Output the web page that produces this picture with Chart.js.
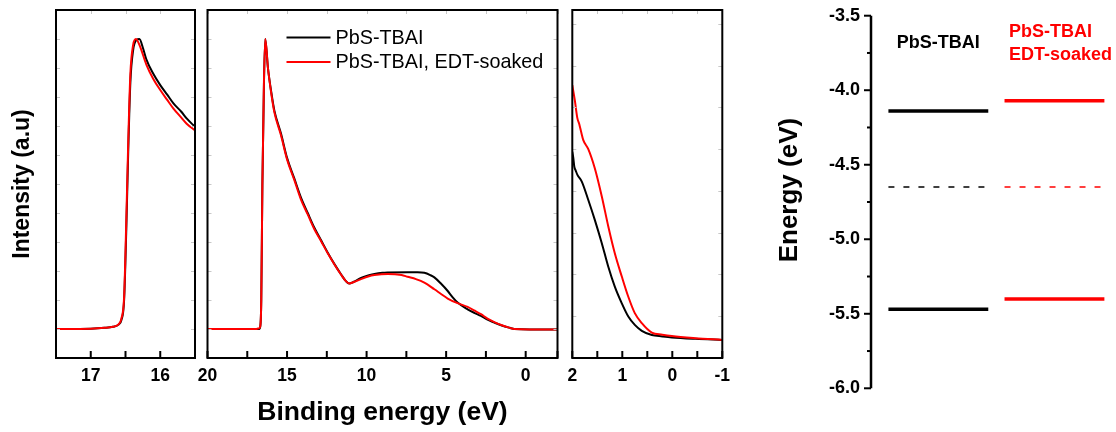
<!DOCTYPE html>
<html>
<head>
<meta charset="utf-8">
<script src="https://cdn.jsdelivr.net/npm/chart.js@4.4.0/dist/chart.umd.min.js"></script>
<style>
  html, body { margin: 0; padding: 0; background: #fff; }
  #wrap { position: relative; width: 1116px; height: 432px; }
  #wrap canvas { position: absolute; left: 0; top: 0; }
</style>
</head>
<body>
<div id="wrap">
  <canvas id="cutoffChart" width="1116" height="432"></canvas>
  <canvas id="fullChart" width="1116" height="432"></canvas>
  <canvas id="edgeChart" width="1116" height="432"></canvas>
  <canvas id="levelChart" width="1116" height="432"></canvas>
</div>
<script>
// series names
const seriesNames = ['PbS-TBAI', 'PbS-TBAI, EDT-soaked'];

// panel 1: secondary electron cutoff (binding energy, normalised intensity)
const cutoffX_tbai = [17.5, 17.0, 16.8, 16.68, 16.6, 16.56, 16.52, 16.49, 16.46, 16.43, 16.39, 16.34, 16.30, 16.25, 16.2, 16.1, 16.0, 15.9, 15.81, 15.7, 15.62, 15.5];
const cutoffY_tbai = [0, 0.001, 0.004, 0.008, 0.015, 0.03, 0.1, 0.33, 0.62, 0.85, 0.962, 0.997, 1.0, 0.97, 0.93, 0.88, 0.841, 0.808, 0.778, 0.75, 0.726, 0.697];
const cutoffX_edt = [17.5, 17.0, 16.8, 16.68, 16.6, 16.56, 16.52, 16.49, 16.46, 16.43, 16.39, 16.35, 16.3, 16.2, 16.1, 16.0, 15.9, 15.81, 15.7, 15.62, 15.5];
const cutoffY_edt = [0, 0.001, 0.004, 0.008, 0.016, 0.035, 0.11, 0.36, 0.65, 0.88, 0.98, 1.0, 0.98, 0.912, 0.862, 0.824, 0.79, 0.76, 0.73, 0.708, 0.685];

// panel 2: full UPS spectrum
const fullX_tbai = [20, 17, 16.75, 16.68, 16.62, 16.55, 16.45, 16.37, 16.2, 16.0, 15.8, 15.38, 15.0, 14.55, 14.13, 13.7, 13.29, 12.85, 12.45, 12.0, 11.61, 11.3, 11.1, 10.8, 10.35, 9.9, 9.51, 9.0, 8.67, 7.42, 6.8, 6.37, 6.0, 5.74, 5.3, 4.9, 4.6, 4.28, 3.65, 3.2, 2.81, 2.4, 1.97, 1.5, 1.0, 0.71, -2];
const fullY_tbai = [0, 0, 0, 0.01, 0.1, 0.5, 0.85, 1.0, 0.9, 0.82, 0.754, 0.674, 0.59, 0.52, 0.454, 0.40, 0.35, 0.305, 0.264, 0.222, 0.189, 0.165, 0.157, 0.163, 0.176, 0.185, 0.19, 0.194, 0.195, 0.196, 0.196, 0.194, 0.186, 0.178, 0.155, 0.131, 0.11, 0.091, 0.068, 0.055, 0.045, 0.032, 0.022, 0.012, 0.004, 0, -0.002];
const fullX_edt = [20, 17, 16.75, 16.68, 16.62, 16.55, 16.45, 16.37, 16.2, 16.0, 15.8, 15.38, 15.0, 14.55, 14.13, 13.7, 13.29, 12.85, 12.45, 12.0, 11.61, 11.3, 11.1, 10.8, 10.35, 9.9, 9.51, 8.67, 7.8, 7.42, 6.9, 6.37, 5.74, 5.3, 4.9, 4.28, 3.65, 3.2, 2.81, 2.4, 1.97, 1.5, 1.0, 0.71, -2];
const fullY_edt = [0, 0, 0.003, 0.01, 0.1, 0.5, 0.86, 1.0, 0.9, 0.815, 0.748, 0.668, 0.585, 0.515, 0.447, 0.395, 0.345, 0.302, 0.262, 0.221, 0.188, 0.165, 0.157, 0.162, 0.172, 0.181, 0.186, 0.19, 0.186, 0.18, 0.172, 0.16, 0.137, 0.12, 0.105, 0.089, 0.076, 0.063, 0.051, 0.036, 0.024, 0.013, 0.004, 0, -0.002];

// panel 3: valence band edge
const edgeX_tbai = [2.0, 1.98, 1.96, 1.93, 1.9, 1.81, 1.68, 1.55, 1.41, 1.28, 1.15, 1.01, 0.88, 0.75, 0.61, 0.41, 0.2, 0.01, -0.46, -1.0];
const edgeY_tbai = [0.593, 0.575, 0.55, 0.538, 0.527, 0.507, 0.454, 0.397, 0.33, 0.262, 0.205, 0.157, 0.119, 0.095, 0.078, 0.066, 0.062, 0.059, 0.055, 0.052];
const edgeX_edt = [2.0, 1.95, 1.9, 1.86, 1.82, 1.78, 1.68, 1.55, 1.41, 1.28, 1.15, 1.01, 0.88, 0.75, 0.61, 0.41, 0.2, 0.01, -0.46, -1.0];
const edgeY_edt = [0.784, 0.741, 0.69, 0.672, 0.648, 0.626, 0.6, 0.545, 0.464, 0.378, 0.301, 0.234, 0.176, 0.129, 0.1, 0.073, 0.067, 0.063, 0.057, 0.052];

// x ticks and labels for the three spectra panels
const cutoffTicks = [17.5, 17, 16.5, 16, 15.5];
const cutoffLabels = [17, 16];
const fullTicks = [20, 17.5, 15, 12.5, 10, 7.5, 5, 2.5, 0, -2];
const fullLabels = [20, 15, 10, 5, 0];
const edgeTicks = [2, 1.5, 1, 0.5, 0, -0.5, -1];
const edgeLabels = [2, 1, 0, -1];

// panel 4: energy levels (eV)
const levelNames = [['PbS-TBAI'], ['PbS-TBAI', 'EDT-soaked']];
const levelCB = [-4.14, -4.07];
const levelEF = [-4.65, -4.65];
const levelVB = [-5.47, -5.40];
const energyTicks = [-6.0, -5.5, -5.0, -4.5, -4.0, -3.5];

const colors = ['#000000', '#ff0000'];
const fontFam = '"Liberation Sans", Arial, sans-serif';
Chart.defaults.font.family = fontFam;
Chart.defaults.color = '#000';

function pairs(xs, ys) {
  return xs.map((x, i) => ({x: x, y: ys[i]}));
}

// frame round the plot area, inward ticks
const framePlugin = {
  id: 'frame',
  afterDatasetsDraw(chart) {
    const {ctx, chartArea: a, scales} = chart;
    ctx.save();
    ctx.strokeStyle = '#c8c8c8';
    ctx.lineWidth = 1;
    scales.x.ticks.forEach(t => {
      const px = Math.round(scales.x.getPixelForValue(t.value)) + 0.5;
      ctx.beginPath(); ctx.moveTo(px, a.top); ctx.lineTo(px, a.top + 4); ctx.stroke();
    });
    scales.y.ticks.forEach(t => {
      const py = Math.round(scales.y.getPixelForValue(t.value)) + 0.5;
      ctx.beginPath(); ctx.moveTo(a.left, py); ctx.lineTo(a.left + 4, py); ctx.stroke();
      ctx.beginPath(); ctx.moveTo(a.right, py); ctx.lineTo(a.right - 4, py); ctx.stroke();
    });
    ctx.strokeStyle = '#000';
    ctx.lineWidth = 2;
    scales.x.ticks.forEach(t => {
      const px = scales.x.getPixelForValue(t.value);
      ctx.beginPath(); ctx.moveTo(px, a.bottom); ctx.lineTo(px, a.bottom - 7); ctx.stroke();
    });
    ctx.strokeRect(a.left, a.top, a.right - a.left, a.bottom - a.top);
    ctx.restore();
  }
};

// legend drawn inside the middle panel
const innerLegend = {
  id: 'innerLegend',
  afterDraw(chart) {
    const {ctx, chartArea: a} = chart;
    ctx.save();
    ctx.font = '19.8px ' + fontFam;
    ctx.textBaseline = 'middle';
    seriesNames.forEach((name, i) => {
      const y = a.top + 27.5 + i * 24.4;
      ctx.strokeStyle = colors[i];
      ctx.lineWidth = 2;
      ctx.beginPath(); ctx.moveTo(a.left + 79, y); ctx.lineTo(a.left + 123, y); ctx.stroke();
      ctx.fillStyle = '#000';
      ctx.fillText(name, a.left + 128, y + 1);
    });
    ctx.restore();
  }
};

function spectrumChart(id, datasets, xMin, xMax, ticks, labels, yMin, yMax, yStep, pad, yOpts, xTitle, extra) {
  return new Chart(document.getElementById(id), {
    type: 'line',
    data: {
      // red drawn on top of black
      datasets: datasets.map((d, i) => ({
        label: seriesNames[i],
        data: d,
        borderColor: colors[i],
        borderWidth: 2,
        pointRadius: 0,
        fill: false,
        cubicInterpolationMode: 'monotone'
      })).reverse()
    },
    options: {
      responsive: false,
      animation: false,
      events: [],
      layout: {padding: pad},
      plugins: {legend: {display: false}, tooltip: {enabled: false}},
      scales: {
        x: {
          type: 'linear',
          reverse: true,
          min: xMin,
          max: xMax,
          grid: {display: false, drawTicks: false},
          border: {display: false},
          afterBuildTicks: s => { s.ticks = ticks.map(v => ({value: v})); },
          afterFit: s => { s.height = 74; s.paddingLeft = 0; s.paddingRight = 0; },
          ticks: {
            autoSkip: false,
            maxRotation: 0,
            padding: 8,
            font: {size: 17.5, weight: 'bold'},
            callback: v => labels.includes(v) ? String(v) : ''
          },
          title: xTitle
        },
        y: Object.assign({
          type: 'linear',
          min: yMin,
          max: yMax,
          grid: {display: false, drawTicks: false},
          border: {display: false},
          ticks: {display: false, stepSize: yStep}
        }, yOpts)
      }
    },
    plugins: [framePlugin].concat(extra || [])
  });
}

// panel 1
spectrumChart('cutoffChart',
  [pairs(cutoffX_tbai, cutoffY_tbai), pairs(cutoffX_edt, cutoffY_edt)],
  15.5, 17.5, cutoffTicks, cutoffLabels, -0.1, 1.1, 0.1,
  {left: 0, right: 921, top: 10, bottom: 0},
  {
    display: true,
    afterFit: s => { s.width = 56; s.paddingTop = 0; s.paddingBottom = 0; },
    title: {display: true, text: 'Intensity (a.u)', font: {size: 23, weight: 'bold'}, padding: {top: 9, bottom: 0}}
  },
  {display: false});

// panel 2
spectrumChart('fullChart',
  [pairs(fullX_tbai, fullY_tbai), pairs(fullX_edt, fullY_edt)],
  -2, 20, fullTicks, fullLabels, -0.1, 1.1, 0.1,
  {left: 207.5, right: 558.5, top: 10, bottom: 0},
  {display: false},
  {display: true, text: 'Binding energy (eV)', font: {size: 26.5, weight: 'bold'}, padding: {top: 0, bottom: 3}},
  [innerLegend]);

// panel 3
spectrumChart('edgeChart',
  [pairs(edgeX_tbai, edgeY_tbai), pairs(edgeX_edt, edgeY_edt)],
  -1, 2, edgeTicks, edgeLabels, 0, 1, 0.12,
  {left: 572.3, right: 393.7, top: 10, bottom: 0},
  {display: false},
  {display: false});

// panel 4: axis with outward ticks, axis title and level captions
const levelAxis = {
  id: 'levelAxis',
  afterDatasetsDraw(chart) {
    const {ctx, chartArea: a, scales} = chart;
    const y = scales.y, x = scales.x;
    ctx.save();
    ctx.strokeStyle = '#000';
    ctx.lineWidth = 2.5;
    ctx.beginPath();
    ctx.moveTo(a.left, y.getPixelForValue(-3.5));
    ctx.lineTo(a.left, y.getPixelForValue(-6.0));
    ctx.stroke();
    ctx.lineWidth = 2;
    for (let v = -6.0; v <= -3.49; v += 0.25) {
      const py = y.getPixelForValue(v);
      const major = Math.abs(v * 2 - Math.round(v * 2)) < 1e-6;
      ctx.beginPath(); ctx.moveTo(a.left, py); ctx.lineTo(a.left - (major ? 7 : 4), py); ctx.stroke();
    }

    ctx.save();
    ctx.translate(790, y.getPixelForValue(-4.67));
    ctx.rotate(-Math.PI / 2);
    ctx.font = 'bold 26px ' + fontFam;
    ctx.textAlign = 'center';
    ctx.textBaseline = 'middle';
    ctx.fillStyle = '#000';
    ctx.fillText('Energy (eV)', 0, 0);
    ctx.restore();

    ctx.font = 'bold 18px ' + fontFam;
    ctx.textBaseline = 'middle';
    levelNames.forEach((lines, i) => {
      ctx.fillStyle = colors[i];
      const cy = y.getPixelForValue(-3.685);
      lines.forEach((t, k) => {
        const ty = cy + (k - (lines.length - 1) / 2) * 23;
        if (i === 0) {
          ctx.textAlign = 'center';
          ctx.fillText(t, x.getPixelForValue(i), ty);
        } else {
          ctx.textAlign = 'left';
          ctx.fillText(t, x.getPixelForValue(i - 0.43) + 4.5, ty);
        }
      });
    });
    ctx.restore();
  }
};

const levelSets = [];
[levelCB, levelVB].forEach(arr => {
  arr.forEach((e, i) => {
    levelSets.push({
      data: [{x: i - 0.43, y: e}, {x: i + 0.43, y: e}],
      borderColor: colors[i], borderWidth: 3.5, pointRadius: 0
    });
  });
});
levelEF.forEach((e, i) => {
  levelSets.push({
    data: [{x: i - 0.43, y: e}, {x: i + 0.43, y: e}],
    borderColor: colors[i], borderWidth: 1.5, borderDash: [6, 9], pointRadius: 0
  });
});

new Chart(document.getElementById('levelChart'), {
  type: 'line',
  data: {datasets: levelSets},
  options: {
    responsive: false,
    animation: false,
    events: [],
    layout: {padding: {left: 760, right: 0, top: 15.7, bottom: 43.7}},
    plugins: {legend: {display: false}, tooltip: {enabled: false}},
    scales: {
      x: {type: 'linear', display: false, min: -0.58, max: 1.53},
      y: {
        type: 'linear',
        min: -6.0,
        max: -3.5,
        grid: {display: false, drawTicks: false},
        border: {display: false},
        afterBuildTicks: s => { s.ticks = energyTicks.map(v => ({value: v})); },
        afterFit: s => { s.width = 111; s.paddingTop = 0; s.paddingBottom = 0; },
        ticks: {padding: 11, font: {size: 18, weight: 'bold'}, callback: v => v.toFixed(1)}
      }
    }
  },
  plugins: [levelAxis]
});
</script>
</body>
</html>
